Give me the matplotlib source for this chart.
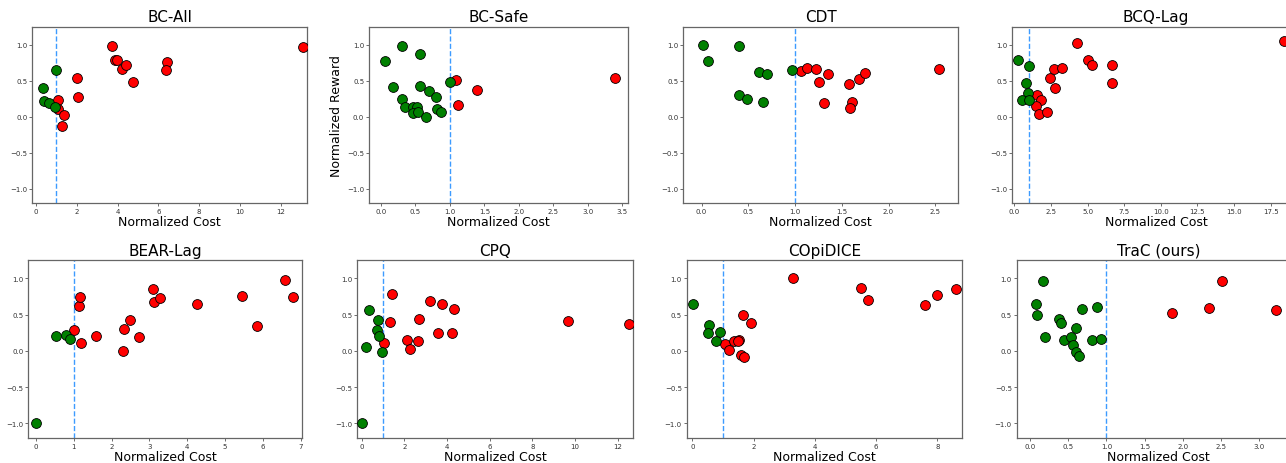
import matplotlib
matplotlib.use('Agg')
import matplotlib.pyplot as plt

# normalized cost / reward for each method
titles = ['BC-All', 'BC-Safe', 'CDT', 'BCQ-Lag', 'BEAR-Lag', 'CPQ', 'COpiDICE', 'TraC (ours)']

bc_all_cost = [0.98, 0.36, 0.39, 0.65, 0.93, 1.09, 1.09, 1.39, 1.26, 2.0, 2.04, 3.74, 3.89, 3.99,
               4.2, 4.4, 4.74, 6.44, 6.39, 13.08]
bc_all_reward = [0.654, 0.394, 0.223, 0.19, 0.135, 0.237, 0.107, 0.024, -0.125, 0.54, 0.27, 0.98,
                 0.79, 0.79, 0.66, 0.72, 0.487, 0.76, 0.65, 0.965]

bc_safe_cost = [0.31, 0.06, 0.56, 0.18, 0.56, 0.69, 0.80, 1.0, 0.30, 0.35, 0.46, 0.53, 0.47, 0.54,
                0.65, 0.81, 0.87, 1.09, 1.39, 1.12, 3.39]
bc_safe_reward = [0.98, 0.78, 0.877, 0.41, 0.43, 0.35, 0.28, 0.48, 0.24, 0.14, 0.14, 0.14, 0.05, 0.06,
                  -0.01, 0.11, 0.07, 0.505, 0.366, 0.157, 0.533]

cdt_cost = [0.014, 0.068, 0.396, 0.613, 0.70, 0.963, 0.40, 0.49, 0.66, 1.06, 1.127, 1.22, 1.35, 1.26,
            1.305, 1.576, 1.687, 1.744, 1.61, 1.587, 2.54]
cdt_reward = [1.0, 0.78, 0.98, 0.626, 0.59, 0.654, 0.306, 0.241, 0.209, 0.63, 0.677, 0.66, 0.594, 0.478,
              0.186, 0.455, 0.529, 0.60, 0.209, 0.125, 0.66]

bcq_cost = [0.23, 0.99, 0.82, 0.91, 0.5, 0.99, 1.53, 1.82, 1.46, 1.71, 2.21, 2.46, 2.73, 3.26, 2.78,
            5.05, 5.33, 4.26, 6.69, 6.69, 18.41]
bcq_reward = [0.79, 0.71, 0.47, 0.33, 0.227, 0.227, 0.30, 0.237, 0.153, 0.037, 0.065, 0.533, 0.66, 0.67,
              0.394, 0.784, 0.724, 1.02, 0.72, 0.473, 1.05]

bear_cost = [0.0, 0.54, 0.79, 0.89, 1.006, 1.13, 1.17, 1.2, 1.6, 2.29, 2.33, 2.48, 2.72, 3.10, 3.12,
             3.28, 4.26, 5.46, 5.85, 6.59, 6.81]
bear_reward = [-1.0, 0.21, 0.224, 0.17, 0.289, 0.617, 0.74, 0.109, 0.206, -0.002, 0.307, 0.432, 0.187,
               0.86, 0.67, 0.727, 0.64, 0.76, 0.344, 0.98, 0.745]

cpq_cost = [0.0, 0.22, 0.36, 0.75, 0.73, 0.83, 0.94, 1.05, 1.31, 1.42, 2.125, 2.28, 2.66, 2.69, 3.22,
            3.56, 3.77, 4.25, 4.31, 9.66, 12.52]
cpq_reward = [-1.0, 0.049, 0.57, 0.43, 0.29, 0.2, -0.02, 0.113, 0.40, 0.79, 0.145, 0.025, 0.132, 0.44,
              0.69, 0.247, 0.65, 0.247, 0.58, 0.418, 0.372]

copi_cost = [0.01, 0.555, 0.50, 0.76, 0.90, 1.08, 1.2, 1.36, 1.52, 1.50, 1.66, 1.92, 1.59, 1.70, 3.27,
             5.51, 5.73, 7.58, 7.97, 8.59]
copi_reward = [0.65, 0.357, 0.24, 0.13, 0.256, 0.09, 0.015, 0.13, 0.154, 0.13, 0.496, 0.38, -0.058,
               -0.08, 1.0, 0.866, 0.70, 0.635, 0.773, 0.847]

trac_cost = [0.17, 0.083, 0.092, 0.20, 0.375, 0.41, 0.44, 0.54, 0.567, 0.606, 0.606, 0.637, 0.68, 0.816,
             0.877, 0.933, 1.86, 2.34, 2.51, 3.21]
trac_reward = [0.968, 0.64, 0.50, 0.19, 0.44, 0.38, 0.15, 0.19, 0.08, 0.31, -0.02, -0.077, 0.575, 0.15,
               0.61, 0.168, 0.52, 0.593, 0.963, 0.557]

costs = [bc_all_cost, bc_safe_cost, cdt_cost, bcq_cost, bear_cost, cpq_cost, copi_cost, trac_cost]
rewards = [bc_all_reward, bc_safe_reward, cdt_reward, bcq_reward, bear_reward, cpq_reward, copi_reward,
           trac_reward]

cost_threshold = 1.0

# layout in pixels: left, right, top, bottom  (figure is 1286 x 464)
W, H = 1286, 464
boxes = [(32.3, 306.7, 27.7, 204), (369, 628.3, 27.7, 204), (683.3, 957.7, 27.7, 204),
         (1012.3, 1300, 27.7, 204),
         (28.3, 301.7, 261.3, 438.7), (357.3, 632.7, 261.3, 438.7), (686.7, 961.7, 261.3, 438.7),
         (1016.7, 1300, 261.3, 438.7)]
xlims = [(-0.18, 13.27), (-0.174, 3.59), (-0.196, 2.74), (-0.137, 19.5),
         (-0.203, 7.03), (-0.2, 12.7), (-0.185, 8.79), (-0.174, 3.53)]
xticks = [[0, 2, 4, 6, 8, 10, 12], [0, 0.5, 1, 1.5, 2, 2.5, 3, 3.5], [0, 0.5, 1, 1.5, 2, 2.5],
          [0, 2.5, 5, 7.5, 10, 12.5, 15, 17.5], [0, 1, 2, 3, 4, 5, 6, 7], [0, 2, 4, 6, 8, 10, 12],
          [0, 2, 4, 6, 8], [0, 0.5, 1, 1.5, 2, 2.5, 3]]
int_ticks = [True, False, False, False, True, True, True, False]

fig = plt.figure(figsize=(W / 100, H / 100), dpi=100)

for i in range(8):
    l, r, t, b = boxes[i]
    ax = fig.add_axes([l / W, (H - b) / H, (r - l) / W, (b - t) / H])
    c = costs[i]
    rw = rewards[i]
    safe = [j for j in range(len(c)) if c[j] <= cost_threshold]
    unsafe = [j for j in range(len(c)) if c[j] > cost_threshold]
    ax.scatter([c[j] for j in unsafe], [rw[j] for j in unsafe], s=50, c='red',
               edgecolors='black', linewidths=0.6, zorder=3)
    ax.scatter([c[j] for j in safe], [rw[j] for j in safe], s=50, c='green',
               edgecolors='black', linewidths=0.6, zorder=3)
    ax.axvline(cost_threshold, color='#3d9bff', linestyle='--', linewidth=1.0, zorder=2)

    ax.set_xlim(xlims[i])
    ax.set_ylim(-1.2, 1.25)
    ax.set_xticks(xticks[i])
    if int_ticks[i]:
        ax.set_xticklabels([str(int(v)) for v in xticks[i]])
    else:
        ax.set_xticklabels(['%.1f' % v for v in xticks[i]])
    ax.set_yticks([-1.0, -0.5, 0.0, 0.5, 1.0])
    ax.set_yticklabels(['\u22121.0', '\u22120.5', '0.0', '0.5', '1.0'])
    ax.tick_params(labelsize=5, length=2, width=0.5, pad=1.5, colors='#333333')
    for sp in ax.spines.values():
        sp.set_color('#666666')
        sp.set_linewidth(0.9)

    ax.set_title(titles[i], fontsize=11, pad=4)
    ax.set_xlabel('Normalized Cost', fontsize=9, labelpad=1)
    if i == 1:
        ax.set_ylabel('Normalized Reward', fontsize=9, labelpad=3)

fig.savefig('out.png', dpi=100)
